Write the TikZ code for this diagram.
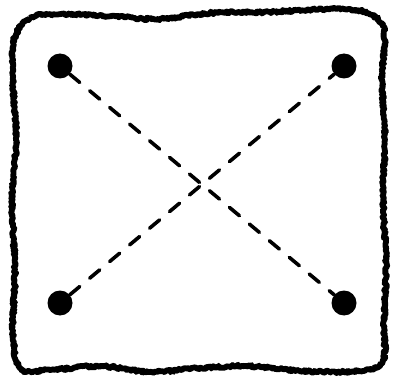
\documentclass[tikz,border=0pt]{standalone}
\usepackage{tikz}
\usetikzlibrary{decorations.pathmorphing}

\begin{document}
\begin{tikzpicture}[
  x=1pt, y=-1pt,
  dot/.style={circle, fill=black, inner sep=0pt, minimum size=25pt},
  link/.style={dash pattern=on 13pt off 13pt, line width=3.6pt, line cap=round},
  rough/.style={line width=5.8pt, line join=round,
                decorate, decoration={random steps, segment length=1.4pt, amplitude=1.3pt}}
]
\useasboundingbox (0,0) rectangle (394,385);
% wobbly frame
\draw[rough] plot[smooth cycle, tension=0.6] coordinates {
  (14,40) (30,18) (60,14) (110,16) (160,19) (210,13) (270,12) (330,9) (365,12)
  (384,30) (382,80) (385,140) (383,200) (386,260) (384,320) (383,360)
  (360,371) (300,371) (250,366) (200,368) (150,372) (100,366) (50,370) (20,368)
  (13,330) (15,270) (12,200) (16,140) (13,80)};
% corner points
\node[dot] (nw) at (60,66) {};
\node[dot] (ne) at (344,66) {};
\node[dot] (sw) at (60,303) {};
\node[dot] (se) at (344,303) {};
\draw[link] (nw) -- (se);
\draw[link] (sw) -- (ne);
\end{tikzpicture}
\end{document}
